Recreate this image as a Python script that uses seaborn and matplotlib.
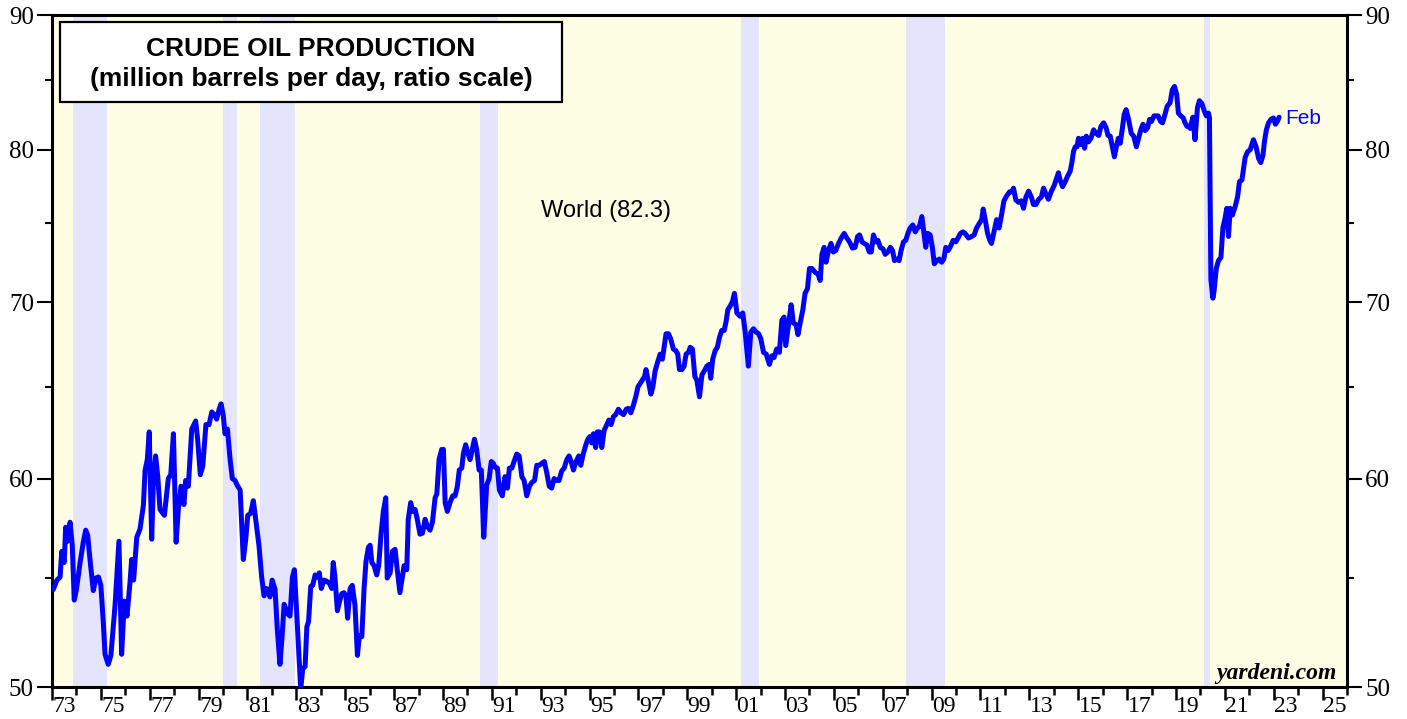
import numpy as np
import pandas as pd
import seaborn as sns
import matplotlib.pyplot as plt
from matplotlib.patches import Rectangle
from matplotlib.ticker import FixedLocator, NullFormatter

sns.set_theme(style="white")
plt.rcParams['font.family'] = ['Liberation Sans', 'DejaVu Sans']
plt.rcParams['text.color'] = 'black'
plt.rcParams['xtick.color'] = 'black'
plt.rcParams['ytick.color'] = 'black'

# world crude oil production, million barrels per day
years = [
    1973.05, 1973.2, 1973.33, 1973.4, 1973.5, 1973.56, 1973.64, 1973.74, 1973.83, 1973.91,
    1974.0, 1974.15, 1974.28, 1974.38, 1974.46, 1974.58, 1974.69, 1974.79, 1974.9, 1975.0,
    1975.1, 1975.17, 1975.3, 1975.41, 1975.58, 1975.74, 1975.85, 1975.96, 1976.07, 1976.19,
    1976.26, 1976.34, 1976.47, 1976.6, 1976.74, 1976.81, 1976.9, 1976.98, 1977.08, 1977.15,
    1977.24, 1977.33, 1977.42, 1977.51, 1977.6, 1977.7, 1977.76, 1977.86, 1977.97, 1978.08,
    1978.17, 1978.28, 1978.4, 1978.47, 1978.58, 1978.72, 1978.88, 1978.96, 1979.07, 1979.17,
    1979.3, 1979.43, 1979.54, 1979.67, 1979.74, 1979.84, 1979.92, 1980.01, 1980.08, 1980.18,
    1980.29, 1980.38, 1980.49, 1980.58, 1980.7, 1980.83, 1980.93, 1981.01, 1981.13, 1981.24,
    1981.35, 1981.47, 1981.58, 1981.68, 1981.76, 1981.85, 1981.92, 1982.01, 1982.13, 1982.22,
    1982.33, 1982.42, 1982.5, 1982.65, 1982.74, 1982.84, 1982.92,
    1983.18, 1983.26, 1983.36, 1983.43, 1983.5, 1983.59, 1983.67, 1983.77, 1983.86, 1983.94,
    1984.02, 1984.13, 1984.24, 1984.35, 1984.45, 1984.51, 1984.58, 1984.68, 1984.76, 1984.86,
    1984.95, 1985.03, 1985.1, 1985.2, 1985.29, 1985.4, 1985.5, 1985.58, 1985.68, 1985.77,
    1985.85, 1985.95, 1986.02, 1986.09, 1986.18, 1986.29, 1986.37, 1986.47, 1986.56, 1986.66,
    1986.72, 1986.84, 1986.93, 1987.04, 1987.13, 1987.24, 1987.34, 1987.41, 1987.52, 1987.58,
    1987.68, 1987.76, 1987.86, 1987.95, 1988.06, 1988.16, 1988.27, 1988.36, 1988.47, 1988.57,
    1988.68, 1988.75, 1988.84, 1988.95, 1989.02, 1989.09, 1989.18, 1989.29, 1989.4, 1989.5,
    1989.59, 1989.67, 1989.77, 1989.84, 1989.93, 1990.02, 1990.11, 1990.2, 1990.29, 1990.38,
    1990.48, 1990.57, 1990.67, 1990.75, 1990.79, 1990.89, 1990.98,
    1991.06, 1991.13, 1991.23, 1991.31, 1991.43, 1991.54, 1991.64, 1991.72, 1991.82, 1991.91,
    1992.02, 1992.12, 1992.23, 1992.32, 1992.43, 1992.54, 1992.64, 1992.75, 1992.84, 1992.95,
    1993.04, 1993.15, 1993.25, 1993.35, 1993.45, 1993.55, 1993.66, 1993.75, 1993.86, 1993.96,
    1994.07, 1994.16, 1994.25, 1994.34, 1994.45, 1994.56, 1994.64, 1994.75, 1994.85, 1994.93,
    1995.02, 1995.09, 1995.16, 1995.25, 1995.32, 1995.4, 1995.5, 1995.6, 1995.71, 1995.79,
    1995.88, 1995.98, 1996.07, 1996.18, 1996.29, 1996.39, 1996.5, 1996.59, 1996.69, 1996.8,
    1996.9, 1996.98, 1997.07, 1997.16, 1997.25, 1997.31, 1997.41, 1997.51, 1997.59, 1997.68,
    1997.78, 1997.89, 1997.98, 1998.05, 1998.13, 1998.23, 1998.32, 1998.43, 1998.53, 1998.61,
    1998.68, 1998.78, 1998.87, 1998.95, 1999.05, 1999.12, 1999.21, 1999.31, 1999.39, 1999.5,
    1999.6, 1999.69, 1999.8, 1999.9, 1999.96, 2000.04, 2000.14, 2000.23, 2000.32, 2000.41,
    2000.51, 2000.59, 2000.66, 2000.75, 2000.85, 2000.93, 2001.03,
    2001.16, 2001.27, 2001.37, 2001.5, 2001.6, 2001.71, 2001.82, 2001.92, 2002.01, 2002.12,
    2002.23, 2002.36, 2002.46, 2002.55, 2002.66, 2002.77, 2002.87, 2002.96, 2003.03, 2003.14,
    2003.25, 2003.34, 2003.45, 2003.53, 2003.62, 2003.73, 2003.82, 2003.92, 2004.0, 2004.1,
    2004.24, 2004.35, 2004.44, 2004.51, 2004.6, 2004.68, 2004.78, 2004.88, 2004.98, 2005.08,
    2005.19, 2005.3, 2005.42, 2005.53, 2005.64, 2005.76, 2005.87, 2005.97, 2006.05, 2006.15,
    2006.24, 2006.35, 2006.45, 2006.53, 2006.62, 2006.72, 2006.8, 2006.9, 2007.01, 2007.1,
    2007.21, 2007.31, 2007.4, 2007.48, 2007.58, 2007.67, 2007.75, 2007.85, 2007.94, 2008.03,
    2008.12, 2008.23, 2008.33, 2008.42, 2008.5, 2008.6, 2008.66, 2008.76, 2008.84, 2008.94,
    2009.03, 2009.11, 2009.21, 2009.31, 2009.41, 2009.5, 2009.58, 2009.68, 2009.77, 2009.88,
    2009.99, 2010.08, 2010.18, 2010.28, 2010.37, 2010.51,
    2010.64, 2010.74, 2010.84, 2010.95, 2011.05, 2011.11, 2011.21, 2011.29, 2011.38, 2011.45,
    2011.55, 2011.66, 2011.76, 2011.86, 2011.96, 2012.08, 2012.19, 2012.28, 2012.35, 2012.45,
    2012.56, 2012.67, 2012.76, 2012.86, 2012.97, 2013.08, 2013.17, 2013.27, 2013.38, 2013.49,
    2013.58, 2013.68, 2013.78, 2013.89, 2014.02, 2014.12, 2014.19, 2014.26, 2014.36, 2014.47,
    2014.56, 2014.67, 2014.74, 2014.81, 2014.88, 2014.95, 2015.01, 2015.08, 2015.18, 2015.26,
    2015.33, 2015.42, 2015.52, 2015.63, 2015.73, 2015.84, 2015.93, 2016.04, 2016.14, 2016.22,
    2016.31, 2016.41, 2016.48, 2016.56, 2016.64, 2016.72, 2016.81, 2016.88, 2016.96, 2017.06,
    2017.17, 2017.27, 2017.38, 2017.47, 2017.56, 2017.65, 2017.74, 2017.84, 2017.92, 2018.0,
    2018.1, 2018.18, 2018.27, 2018.37, 2018.45, 2018.55, 2018.64, 2018.76, 2018.85, 2018.94,
    2019.03, 2019.1, 2019.2, 2019.3, 2019.37, 2019.45, 2019.51,
    2019.58, 2019.69, 2019.78, 2019.88, 2019.96, 2020.06, 2020.16, 2020.24, 2020.33, 2020.37,
    2020.43, 2020.51, 2020.56, 2020.65, 2020.74, 2020.84, 2020.92, 2021.01, 2021.08, 2021.15,
    2021.22, 2021.31, 2021.42, 2021.52, 2021.6, 2021.7, 2021.76, 2021.83, 2021.93, 2022.04,
    2022.17, 2022.28, 2022.38, 2022.47, 2022.56, 2022.62, 2022.7, 2022.79, 2022.89, 2022.99,
    2023.07, 2023.15, 2023.22,
]
production = [
    54.45, 54.9, 55.05, 56.3, 55.75, 57.5, 56.8, 57.75, 56.6, 53.95,
    54.45, 55.75, 56.75, 57.35, 57.1, 55.6, 54.4, 55.0, 55.05, 54.65,
    52.9, 51.45, 51.0, 51.4, 53.7, 56.8, 51.45, 53.9, 53.2, 54.75,
    55.9, 54.9, 57.0, 57.4, 58.6, 60.45, 61.0, 62.5, 56.9, 59.8,
    61.2, 60.1, 58.4, 58.25, 58.1, 59.3, 60.0, 60.2, 62.4, 56.75,
    58.4, 59.6, 58.65, 59.9, 59.6, 62.65, 63.1, 62.1, 60.2, 60.65,
    62.9, 62.9, 63.6, 63.4, 63.2, 63.75, 64.05, 63.4, 62.4, 62.65,
    61.0, 60.0, 59.9, 59.65, 59.4, 55.9, 56.9, 58.1, 58.2, 58.85,
    57.75, 56.6, 55.05, 54.15, 54.5, 54.45, 54.1, 54.9, 54.45, 52.6,
    51.0, 52.3, 53.75, 53.3, 53.2, 55.05, 55.4,
    49.9, 50.8, 50.9, 52.7, 52.95, 54.6, 54.65, 55.15, 55.05, 55.25,
    54.5, 54.9, 54.85, 54.75, 54.5, 55.75, 55.05, 53.45, 53.85, 54.25,
    54.3, 54.15, 53.1, 54.5, 54.65, 53.7, 51.4, 52.3, 52.25, 54.45,
    55.8, 56.5, 56.6, 55.75, 55.6, 55.15, 55.6, 57.2, 58.3, 59.0,
    55.0, 55.25, 56.3, 56.4, 55.4, 54.3, 55.05, 55.6, 55.4, 57.9,
    58.75, 58.3, 58.4, 57.9, 57.15, 57.2, 57.9, 57.55, 57.35, 57.75,
    59.0, 59.2, 61.0, 61.55, 61.55, 58.75, 58.3, 58.75, 59.1, 59.1,
    59.6, 60.45, 60.55, 61.35, 61.8, 61.35, 61.0, 61.55, 62.1, 61.55,
    60.45, 60.45, 57.0, 58.75, 59.65, 60.0, 60.9,
    60.8, 60.6, 60.55, 59.4, 59.1, 60.1, 59.5, 60.55, 60.55, 60.9,
    61.3, 61.2, 60.1, 59.9, 59.1, 59.6, 59.8, 59.9, 60.7, 60.7,
    60.8, 60.9, 60.3, 59.6, 59.5, 60.0, 59.9, 59.9, 60.4, 60.55,
    61.0, 61.2, 60.9, 60.45, 60.9, 61.2, 60.7, 61.35, 61.8, 62.1,
    62.25, 61.9, 62.4, 61.65, 62.5, 62.5, 61.65, 62.6, 62.9, 63.15,
    62.9, 63.35, 63.45, 63.75, 63.55, 63.45, 63.75, 63.8, 63.55, 64.0,
    64.5, 65.0, 65.2, 65.4, 65.6, 66.0, 65.3, 64.6, 65.0, 65.9,
    66.4, 66.9, 66.6, 67.3, 68.1, 68.1, 67.8, 67.2, 67.1, 66.9,
    66.0, 66.0, 66.2, 66.9, 67.0, 67.3, 67.2, 65.6, 65.4, 64.45,
    65.7, 65.9, 66.2, 66.3, 65.5, 66.6, 67.1, 67.3, 67.9, 68.3,
    68.3, 68.85, 69.55, 69.75, 70.05, 70.55, 69.35,
    69.15, 69.35, 68.2, 66.2, 68.2, 68.4, 68.2, 68.1, 67.8, 67.0,
    66.9, 66.3, 66.8, 66.7, 67.2, 67.0, 68.9, 69.1, 67.4, 68.6,
    69.85, 68.75, 68.65, 68.05, 68.75, 69.55, 70.55, 70.85, 72.1, 72.1,
    71.85, 71.75, 71.35, 73.0, 73.45, 72.5, 73.25, 73.7, 73.15, 73.25,
    73.7, 74.05, 74.35, 74.05, 73.8, 73.4, 73.45, 74.15, 74.25, 73.8,
    73.7, 73.6, 73.15, 73.15, 74.25, 73.8, 73.9, 73.45, 73.35, 73.0,
    73.15, 73.45, 73.25, 72.6, 72.7, 72.6, 73.25, 73.8, 73.9, 74.35,
    74.7, 74.9, 74.45, 74.7, 74.8, 75.45, 74.7, 73.45, 74.35, 74.25,
    73.45, 72.4, 72.6, 72.7, 72.5, 72.7, 73.45, 73.25, 73.5, 73.9,
    73.8, 74.05, 74.35, 74.45, 74.35, 74.05,
    74.15, 74.25, 74.7, 75.0, 75.25, 75.95, 75.1, 74.35, 73.9, 73.7,
    74.45, 75.25, 74.7, 75.55, 76.5, 76.85, 77.1, 77.1, 77.35, 76.55,
    76.4, 76.5, 76.0, 76.75, 77.15, 76.75, 76.25, 76.25, 76.6, 76.75,
    77.35, 76.95, 76.6, 77.1, 77.55, 78.05, 78.4, 77.9, 77.45, 77.8,
    78.15, 78.5, 79.1, 79.9, 80.2, 80.2, 80.8, 80.35, 80.8, 80.1,
    80.95, 80.55, 80.8, 81.4, 81.15, 81.0, 81.65, 81.9, 81.55, 81.0,
    80.95, 80.1, 79.5, 80.2, 80.8, 80.45, 81.55, 82.5, 82.85, 82.15,
    81.15, 80.95, 80.2, 80.8, 81.4, 81.8, 81.35, 81.55, 82.15, 82.0,
    82.4, 82.4, 82.4, 82.0, 81.9, 82.5, 83.1, 83.35, 84.3, 84.55,
    83.95, 82.6, 82.4, 82.25, 81.9, 81.65, 81.65,
    81.5, 82.3, 80.7, 83.0, 83.5, 83.3, 82.75, 82.4, 82.6, 82.25,
    71.4, 70.25, 70.7, 72.1, 72.6, 72.8, 74.7, 75.35, 76.0, 74.15,
    76.0, 75.55, 76.1, 76.75, 77.8, 77.9, 78.6, 79.45, 79.85, 80.0,
    80.7, 80.2, 79.4, 79.1, 79.6, 80.55, 81.4, 81.9, 82.15, 82.25,
    81.8, 82.0, 82.3,
]

# recession periods (shaded)
rec_start = [1973.85, 1980.0, 1981.5, 1990.5, 2001.2, 2007.95, 2020.15]
rec_end = [1975.25, 1980.58, 1982.95, 1991.25, 2001.95, 2009.55, 2020.4]

y_major = [50, 60, 70, 80, 90]
y_minor = [55, 65, 75, 85]
year_labels = [f"{y % 100:02d}" for y in range(1973, 2026, 2)]

df = pd.DataFrame({'year': years, 'mbd': production})

fig = plt.figure(figsize=(14.07, 7.19), dpi=100)
ax = fig.add_axes([52 / 1407, 32 / 719, 1295 / 1407, 672 / 719])
ax.set_facecolor('#FEFEE4')

for s, e in zip(rec_start, rec_end):
    ax.axvspan(s, e, color='#E4E4FC', lw=0, zorder=0.5)

sns.lineplot(data=df, x='year', y='mbd', ax=ax, color='#0000FF', lw=3.6,
             estimator=None, sort=False, zorder=3)

ax.set_yscale('log')
ax.set_ylim(50, 90)
ax.set_xlim(1973, 2026)
ax.set_xlabel('')
ax.set_ylabel('')

# y ticks, both sides
ax.yaxis.set_major_locator(FixedLocator(y_major))
ax.yaxis.set_minor_locator(FixedLocator(y_minor))
ax.set_yticklabels([str(v) for v in y_major])
ax.yaxis.set_minor_formatter(NullFormatter())
ax.tick_params(axis='y', which='both', direction='out', left=True, right=True,
               labelleft=True, labelright=True, width=1.5, color='black')
ax.tick_params(axis='y', which='major', length=11, pad=2, labelsize=18)
ax.tick_params(axis='y', which='minor', length=5)
for lab in ax.get_yticklabels():
    lab.set_family('Liberation Serif')
for tick in ax.yaxis.get_major_ticks():
    tick.label2.set_family('Liberation Serif')
    tick.label2.set_fontsize(18)

# x ticks: marks at every year, labels in the middle of odd years
ax.xaxis.set_major_locator(FixedLocator(list(range(1973, 2027))))
ax.xaxis.set_major_formatter(NullFormatter())
ax.xaxis.set_minor_locator(FixedLocator([y + 0.5 for y in range(1973, 2026, 2)]))
ax.set_xticklabels(year_labels, minor=True)
ax.tick_params(axis='x', which='major', direction='out', length=9, width=1.8,
               bottom=True, color='black')
ax.tick_params(axis='x', which='minor', length=0, pad=6.5, labelsize=17, bottom=True)
for lab in ax.get_xticklabels(minor=True):
    lab.set_family('Liberation Serif')
for i, tick in enumerate(ax.xaxis.get_major_ticks()):
    if i % 2 == 1:
        tick.tick1line.set_markersize(6)

for sp in ax.spines.values():
    sp.set_visible(True)
    sp.set_color('black')
    sp.set_linewidth(2.2)

# title box
ax.add_patch(Rectangle((0.0062, 0.8705), 0.388, 0.119, transform=ax.transAxes,
                       facecolor='white', edgecolor='black', lw=1.6, zorder=5))
ax.text(0.2, 0.949, 'CRUDE OIL PRODUCTION', transform=ax.transAxes,
        ha='center', va='center', fontsize=19, fontweight='bold', zorder=6)
ax.text(0.2, 0.905, '(million barrels per day, ratio scale)', transform=ax.transAxes,
        ha='center', va='center', fontsize=19, fontweight='bold', zorder=6)

ax.text(0.3776, 0.709, 'World (82.3)', transform=ax.transAxes,
        ha='left', va='center', fontsize=17, color='black', zorder=6)
ax.text(0.952, 0.8467, 'Feb', transform=ax.transAxes,
        ha='left', va='center', fontsize=15, color='#0000FF', zorder=6)
ax.text(0.9923, 0.0208, 'yardeni.com', transform=ax.transAxes,
        ha='right', va='center', fontsize=17, fontweight='bold', style='italic',
        family='Liberation Serif', color='black', zorder=6)

fig.savefig('out.png', dpi=100)
